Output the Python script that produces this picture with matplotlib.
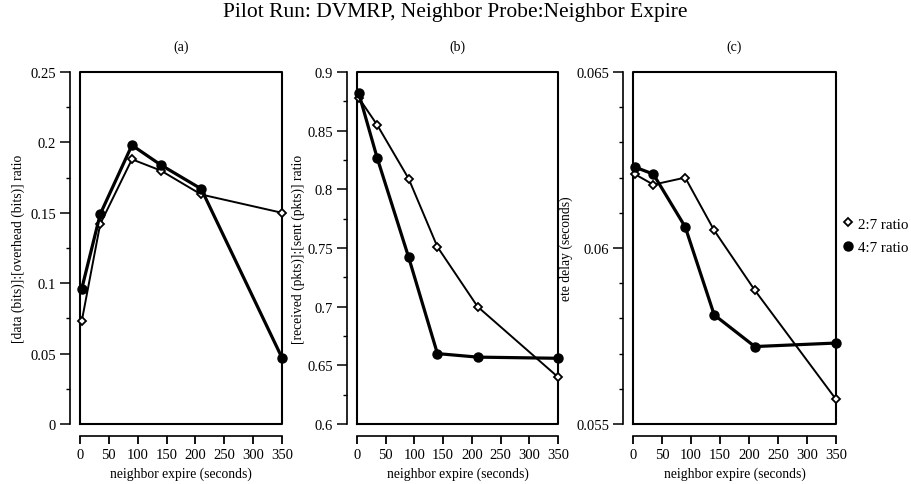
import matplotlib
matplotlib.use("Agg")
import matplotlib.pyplot as plt
from matplotlib.ticker import MultipleLocator, FormatStrFormatter
from matplotlib.lines import Line2D

plt.rcParams['font.family'] = ['Liberation Serif', 'DejaVu Serif']

# neighbor expire (seconds)
expire = [3, 35, 90, 140, 210, 350]

# (a) [data (bits)]:[overhead (bits)] ratio
a_27 = [0.073, 0.142, 0.188, 0.180, 0.163, 0.150]
a_47 = [0.096, 0.149, 0.198, 0.184, 0.167, 0.047]

# (b) [received (pkts)]:[sent (pkts)] ratio
b_27 = [0.878, 0.855, 0.809, 0.751, 0.700, 0.640]
b_47 = [0.882, 0.827, 0.742, 0.660, 0.657, 0.656]

# (c) ete delay (seconds)
c_27 = [0.0621, 0.0618, 0.0620, 0.0605, 0.0588, 0.0557]
c_47 = [0.0623, 0.0621, 0.0606, 0.0581, 0.0572, 0.0573]

series_names = ['2:7 ratio', '4:7 ratio']
panel_tags = ['(a)', '(b)', '(c)']
ylabels = ['[data (bits)]:[overhead (bits)] ratio',
           '[received (pkts)]:[sent (pkts)] ratio',
           'ete delay (seconds)']
ylims = [(0, 0.25), (0.6, 0.9), (0.055, 0.065)]
ymajor = [0.05, 0.05, 0.005]
yminor = [0.025, 0.025, 0.001]

fig = plt.figure(figsize=(9.11, 4.85), dpi=100)
W, H = 911.0, 485.0

boxes = [(80, 282), (357, 558), (633, 836)]
label_x = [-0.27, -0.26, -0.295]
top, bottom = 73, 425

data = [(a_27, a_47), (b_27, b_47), (c_27, c_47)]

open_style = dict(color='black', lw=1.4, marker='D', markersize=4.5,
                  markerfacecolor='white', markeredgewidth=1.3)
fill_style = dict(color='black', lw=2.3, marker='o', markersize=6.5,
                  markerfacecolor='black')

for i in range(3):
    l, r = boxes[i]
    ax = fig.add_axes([l / W, 1 - bottom / H, (r - l) / W, (bottom - top) / H])
    s27, s47 = data[i]
    ax.plot(expire, s27, clip_on=False, zorder=3, **open_style)
    ax.plot(expire, s47, clip_on=False, zorder=4, **fill_style)

    ax.set_xlim(0, 350)
    ax.set_ylim(*ylims[i])
    ax.xaxis.set_major_locator(MultipleLocator(50))
    ax.yaxis.set_major_locator(MultipleLocator(ymajor[i]))
    ax.yaxis.set_minor_locator(MultipleLocator(yminor[i]))
    ax.yaxis.set_major_formatter(FormatStrFormatter('%g'))

    for side in ['top', 'right']:
        ax.spines[side].set_visible(False)
    ax.spines['left'].set_position(('outward', 7.2))
    ax.spines['bottom'].set_position(('outward', 8.6))
    ax.spines['left'].set_linewidth(1.2)
    ax.spines['bottom'].set_linewidth(1.2)
    # the plot frame
    ax.plot([0, 0, 1, 1, 0], [0, 1, 1, 0, 0], transform=ax.transAxes,
            color='black', lw=1.5, clip_on=False, zorder=2)

    ax.tick_params(axis='y', which='major', length=7, width=1.1, labelsize=10.5, pad=3)
    ax.tick_params(axis='y', which='minor', length=3, width=1.0)
    ax.tick_params(axis='x', which='major', length=6, width=1.3, labelsize=10.5, pad=3)

    ax.set_xlabel('neighbor expire (seconds)', fontsize=9.8, labelpad=4)
    ax.set_ylabel(ylabels[i], fontsize=9.8)
    ax.yaxis.set_label_coords(label_x[i], 0.5)
    ax.set_title(panel_tags[i], fontsize=10, pad=16)

    if i == 2:
        handles = [Line2D([], [], linestyle='none', **{k: v for k, v in open_style.items() if k != 'lw'}),
                   Line2D([], [], linestyle='none', **{k: v for k, v in fill_style.items() if k != 'lw'})]
        ax.legend(handles, series_names, loc='center left', bbox_to_anchor=(1.034, 0.5355),
                  frameon=False, handlelength=0.65, handletextpad=0.35,
                  labelspacing=0.65, fontsize=10.8, borderaxespad=0, borderpad=0)

fig.text(0.5, 1 - 13 / H, 'Pilot Run: DVMRP, Neighbor Probe:Neighbor Expire',
         ha='center', va='center', fontsize=15.5)

fig.savefig('out.png', dpi=100)
